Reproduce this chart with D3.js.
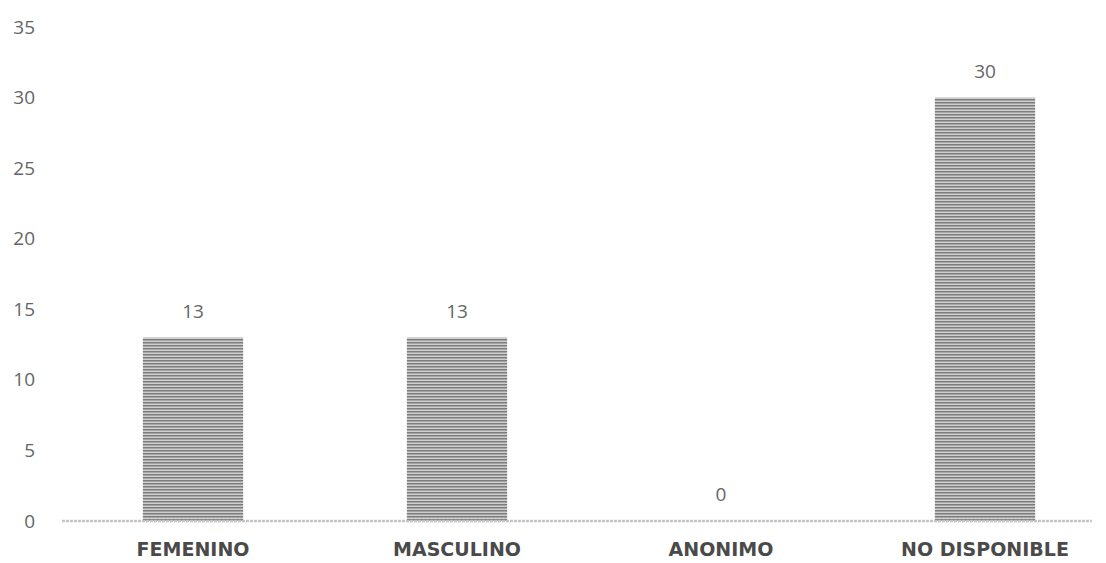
<!DOCTYPE html>
<html>
<head>
<meta charset="utf-8">
<script src="https://cdn.jsdelivr.net/npm/d3@7"></script>
<style>
  body { margin: 0; background: #fff; }
</style>
</head>
<body>
<div id="chart-area"></div>
<script>
// data
let categories = ["FEMENINO", "MASCULINO", "ANONIMO", "NO DISPONIBLE"];
let counts = [13, 13, 0, 30];
let yTicks = [0, 5, 10, 15, 20, 25, 30, 35];

let svg = d3.select("#chart-area").append("svg")
	.attr("width", 1106)
	.attr("height", 563);

// striped fill, looks like the scanned bars
let defs = svg.append("defs");
let pat = defs.append("pattern")
	.attr("id", "stripes")
	.attr("patternUnits", "userSpaceOnUse")
	.attr("width", 4)
	.attr("height", 3);
pat.append("rect").attr("width", 4).attr("height", 3).attr("fill", "#cfcfcf");
pat.append("rect").attr("width", 4).attr("height", 1.5).attr("fill", "#7c7c7c");

let x = d3.scaleBand()
	.domain(categories)
	.range([61, 1117])
	.paddingInner(0.62)
	.paddingOuter(0.31);

let y = d3.scaleLinear()
	.domain([0, 35])
	.range([521, 27]);

// y tick labels, no axis line
let yAxis = d3.axisLeft(y)
	.tickValues(yTicks)
	.tickSize(0)
	.tickPadding(0);

let yAxisGroup = svg.append("g")
	.attr("class", "y-axis axis")
	.attr("transform", "translate(35,0)")
	.call(yAxis);
yAxisGroup.select(".domain").remove();
yAxisGroup.selectAll("text")
	.attr("font-family", "'Open Sans', sans-serif")
	.attr("font-size", 19)
	.attr("fill", "#666");

// bars
svg.selectAll("rect.bar")
	.data(categories)
	.enter().append("rect")
	.attr("class", "bar")
	.attr("x", d => x(d))
	.attr("width", x.bandwidth())
	.attr("y", (d, i) => y(counts[i]))
	.attr("height", (d, i) => y(0) - y(counts[i]))
	.attr("fill", "url(#stripes)");

// baseline
svg.append("line")
	.attr("x1", 62)
	.attr("x2", 1092)
	.attr("y1", y(0))
	.attr("y2", y(0))
	.attr("stroke", "#c4c4c4")
	.attr("stroke-width", 2.5)
	.attr("stroke-dasharray", "3,1");

// value labels
svg.selectAll("text.value")
	.data(categories)
	.enter().append("text")
	.attr("class", "value")
	.attr("x", d => x(d) + x.bandwidth() / 2)
	.attr("y", (d, i) => y(counts[i]) - 20)
	.attr("text-anchor", "middle")
	.attr("font-family", "'Open Sans', sans-serif")
	.attr("font-size", 19)
	.attr("fill", "#666")
	.text((d, i) => counts[i]);

// category labels
let xAxis = d3.axisBottom(x).tickSize(0).tickPadding(0);
let xAxisGroup = svg.append("g")
	.attr("class", "x-axis axis")
	.attr("transform", "translate(0,542)")
	.call(xAxis);
xAxisGroup.select(".domain").remove();
xAxisGroup.selectAll("text")
	.attr("font-family", "'DejaVu Sans', Verdana, sans-serif")
	.attr("font-weight", "bold")
	.attr("font-size", 19)
	.attr("fill", "#4a4a4a");
</script>
</body>
</html>
